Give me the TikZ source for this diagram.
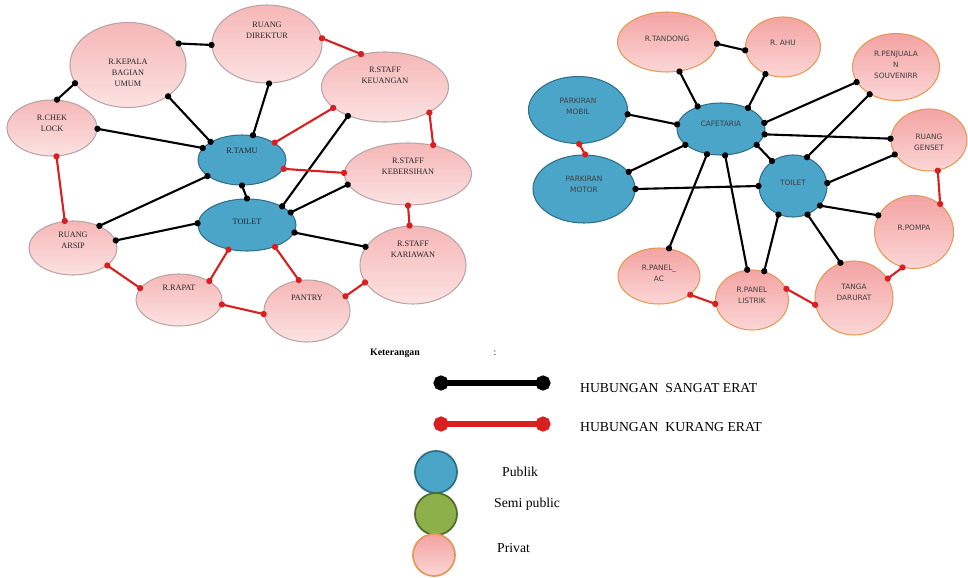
\documentclass[tikz,border=0pt]{standalone}
\usepackage{fontspec}
\setmainfont{Liberation Serif}
\newfontfamily\sansruang{DejaVu Sans}
\usetikzlibrary{shapes.geometric,arrows.meta}

\definecolor{publik}{HTML}{4BA5C8}
\definecolor{publikline}{HTML}{2F6F88}
\definecolor{semi}{HTML}{8DB04A}
\definecolor{semiline}{HTML}{4E6E2A}
\definecolor{privtop}{HTML}{F4A3A3}
\definecolor{privbot}{HTML}{FBD6D6}
\definecolor{privline}{HTML}{E29A55}
\definecolor{kirtop}{HTML}{F6B7B7}
\definecolor{kirbot}{HTML}{FCE2E2}
\definecolor{kirline}{HTML}{B8A4A4}
\definecolor{merah}{HTML}{D92020}

\tikzset{
  sz/.style 2 args={minimum width=#1*0.02cm, minimum height=#2*0.02cm},
  up/.style={yshift=#1*0.02cm},
  ruang/.style={ellipse, inner sep=0pt, line width=0.6pt},
  pub/.style={ruang, draw=publikline, fill=publik},
  priv/.style={ruang, draw=privline, top color=privtop, bottom color=privbot},
  privL/.style={ruang, draw=kirline, top color=kirtop, bottom color=kirbot},
  tL/.style={font=\fontsize{4.7}{6.2}\selectfont, text=black!85, align=center},
  tR/.style={font=\sansruang\fontsize{4.2}{6.4}\selectfont, text=black!75, align=center},
  sangat/.style={draw=black, line width=1.2pt, {Circle[length=3.5pt]}-{Circle[length=3.5pt]}, shorten <=-1.75pt, shorten >=-1.75pt},
  kurang/.style={sangat, draw=merah},
  legsangat/.style={draw=black, line width=3pt, {Circle[length=8.5pt]}-{Circle[length=8.5pt]}, shorten <=-4.25pt, shorten >=-4.25pt},
  legkurang/.style={legsangat, draw=merah},
  legtxt/.style={font=\fontsize{7.8}{9}\selectfont, anchor=west},
  bulat/.style={circle, line width=1pt, minimum size=42*0.02cm},
}

\begin{document}
\begin{tikzpicture}[x=0.02cm, y=-0.02cm]
	\useasboundingbox (0,0) rectangle (968,578);
	% kiri
	\node[privL, sz={116}{85}, label={[tL,up=-8]center:R.KEPALA\\BAGIAN\\UMUM}] (kepala) at (128,65) {};
	\node[privL, sz={110}{78}, label={[tL,up=14]center:RUANG\\DIREKTUR}] (direktur) at (267,44) {};
	\node[privL, sz={127}{70}, label={[tL,up=12]center:R.STAFF\\KEUANGAN}] (keuangan) at (385,87) {};
	\node[privL, sz={90}{56}, label={[tL,up=5]center:R.CHEK\\LOCK}] (chek) at (52,128) {};
	\node[pub, sz={88}{50}, label={[tL,up=9]center:R.TAMU}] (tamu) at (242,160) {};
	\node[privL, sz={127}{62}, label={[tL,up=8]center:R.STAFF\\KEBERSIHAN}] (kebersihan) at (408,174) {};
	\node[pub, sz={98}{52}, label={[tL,up=3]center:TOILET}] (toilet) at (247,225) {};
	\node[privL, sz={88}{54}, label={[tL,up=8]center:RUANG\\ARSIP}] (arsip) at (73,248) {};
	\node[privL, sz={106}{78}, label={[tL,up=16]center:R.STAFF\\KARIAWAN}] (kariawan) at (413,265) {};
	\node[privL, sz={86}{52}, label={[tL,up=12]center:R.RAPAT}] (rapat) at (179,300) {};
	\node[privL, sz={86}{62}, label={[tL,up=13]center:PANTRY}] (pantry) at (307,311) {};

	\draw[sangat] (kepala.23) -- (direktur.181);
	\draw[sangat] (kepala.199) -- (chek.80);
	\draw[sangat] (kepala.-38) -- (tamu.150);
	\draw[sangat] (direktur.-87) -- (tamu.66);
	\draw[sangat] (chek.-1) -- (tamu.163);
	\draw[sangat] (keuangan.218) -- (toilet.28);
	\draw[sangat] (tamu.south) -- (toilet.north);
	\draw[sangat] (kebersihan.190) -- (toilet.16);
	\draw[sangat] (tamu.205) -- (arsip.40);
	\draw[sangat] (toilet.178) -- (arsip.10);
	\draw[sangat] (toilet.-9) -- (kariawan.159);
	\draw[kurang] (direktur.6) -- (keuangan.126);
	\draw[kurang] (keuangan.202) -- (tamu.28);
	\draw[kurang] (keuangan.-30) -- (kebersihan.49);
	\draw[kurang] (tamu.-12) -- (kebersihan.179);
	\draw[kurang] (chek.-81) -- (arsip.107);
	\draw[kurang] (kebersihan.-90) -- (kariawan.95);
	\draw[kurang] (arsip.-27) -- (rapat.163);
	\draw[kurang] (toilet.233) -- (rapat.32);
	\draw[kurang] (toilet.-38) -- (pantry.105);
	\draw[kurang] (rapat.-6) -- (pantry.184);
	\draw[kurang] (pantry.21) -- (kariawan.200);

	% kanan
	\node[priv, sz={99}{60}, label={[tR,up=3]center:R.TANDONG}] (tandong) at (667,42) {};
	\node[priv, sz={75}{60}, label={[tR,up=4]center:R. AHU}] (ahu) at (783,47) {};
	\node[priv, sz={87}{67}, label={[tR,up=2]center:R.PENJUALA\\N\\SOUVENIRR}] (penjualan) at (896,67) {};
	\node[pub, sz={99}{67}, label={[tR,up=4]center:PARKIRAN\\MOBIL}] (mobil) at (578,110) {};
	\node[pub, sz={88}{52}, label={[tR,up=5]center:CAFETARIA}] (cafe) at (721,129) {};
	\node[priv, sz={76}{62}, label={[tR,up=-2]center:RUANG\\GENSET}] (genset) at (929,140) {};
	\node[pub, sz={102}{68}, label={[tR,up=5]center:PARKIRAN\\MOTOR}] (motor) at (584,189) {};
	\node[pub, sz={68}{62}, label={[tR,up=3]center:TOILET}] (toiletr) at (793,186) {};
	\node[priv, sz={79}{73}, label={[tR,up=4]center:R.POMPA}] (pompa) at (914,232) {};
	\node[priv, sz={82}{56}, label={[tR,up=3]center:R.PANEL\_\\AC}] (panelac) at (659,276) {};
	\node[priv, sz={73}{60}, label={[tR,up=5]center:R.PANEL\\LISTRIK}] (listrik) at (752,300) {};
	\node[priv, sz={78}{74}, label={[tR,up=6]center:TANGA\\DARURAT}] (darurat) at (854,298) {};

	\draw[sangat] (tandong.-2) -- (ahu.185);
	\draw[sangat] (tandong.-67) -- (cafe.136);
	\draw[sangat] (ahu.237) -- (cafe.38);
	\draw[sangat] (mobil.-5) -- (cafe.174);
	\draw[sangat] (cafe.8) -- (penjualan.201);
	\draw[sangat] (cafe.-7) -- (genset.178);
	\draw[sangat] (cafe.204) -- (motor.21);
	\draw[sangat] (cafe.-24) -- (toiletr.130);
	\draw[sangat] (cafe.241) -- (panelac.70);
	\draw[sangat] (cafe.-81) -- (listrik.99);
	\draw[sangat] (toiletr.64) -- (penjualan.226);
	\draw[sangat] (toiletr.5) -- (genset.203);
	\draw[sangat] (motor.east) -- (toiletr.west);
	\draw[sangat] (toiletr.-36) -- (pompa.155);
	\draw[sangat] (toiletr.243) -- (listrik.67);
	\draw[sangat] (toiletr.-63) -- (darurat.111);
	\draw[kurang] (mobil.-88) -- (motor.88);
	\draw[kurang] (genset.-74) -- (pompa.47);
	\draw[kurang] (pompa.252) -- (darurat.30);
	\draw[kurang] (panelac.-31) -- (listrik.186);
	\draw[kurang] (listrik.18) -- (darurat.190);

	% keterangan
	\node[font=\bfseries\fontsize{5.6}{7}\selectfont] (ket) at (395,353) {Keterangan};
	\node[font=\fontsize{5.6}{7}\selectfont] (titik) at (495,353) {:};
	\coordinate (s1) at (441,383);
	\coordinate (s2) at (543,383);
	\coordinate (k1) at (441,424);
	\coordinate (k2) at (543,424);
	\draw[legsangat] (s1) -- (s2);
	\draw[legkurang] (k1) -- (k2);
	\node[legtxt] (tsangat) at (574,388) {HUBUNGAN\ \ SANGAT ERAT};
	\node[legtxt] (tkurang) at (574,427) {HUBUNGAN\ \ KURANG ERAT};
	\node[bulat, draw=publikline, fill=publik] (lpub) at (436,472) {};
	\node[bulat, draw=semiline, fill=semi] (lsemi) at (436,514) {};
	\node[bulat, draw=privline, top color=privtop, bottom color=privbot] (lpriv) at (434,555) {};
	\node[legtxt] (tpub) at (496,472) {Publik};
	\node[legtxt] (tsemi) at (488,504) {Semi public};
	\node[legtxt] (tpriv) at (491,548) {Privat};
\end{tikzpicture}
\end{document}
